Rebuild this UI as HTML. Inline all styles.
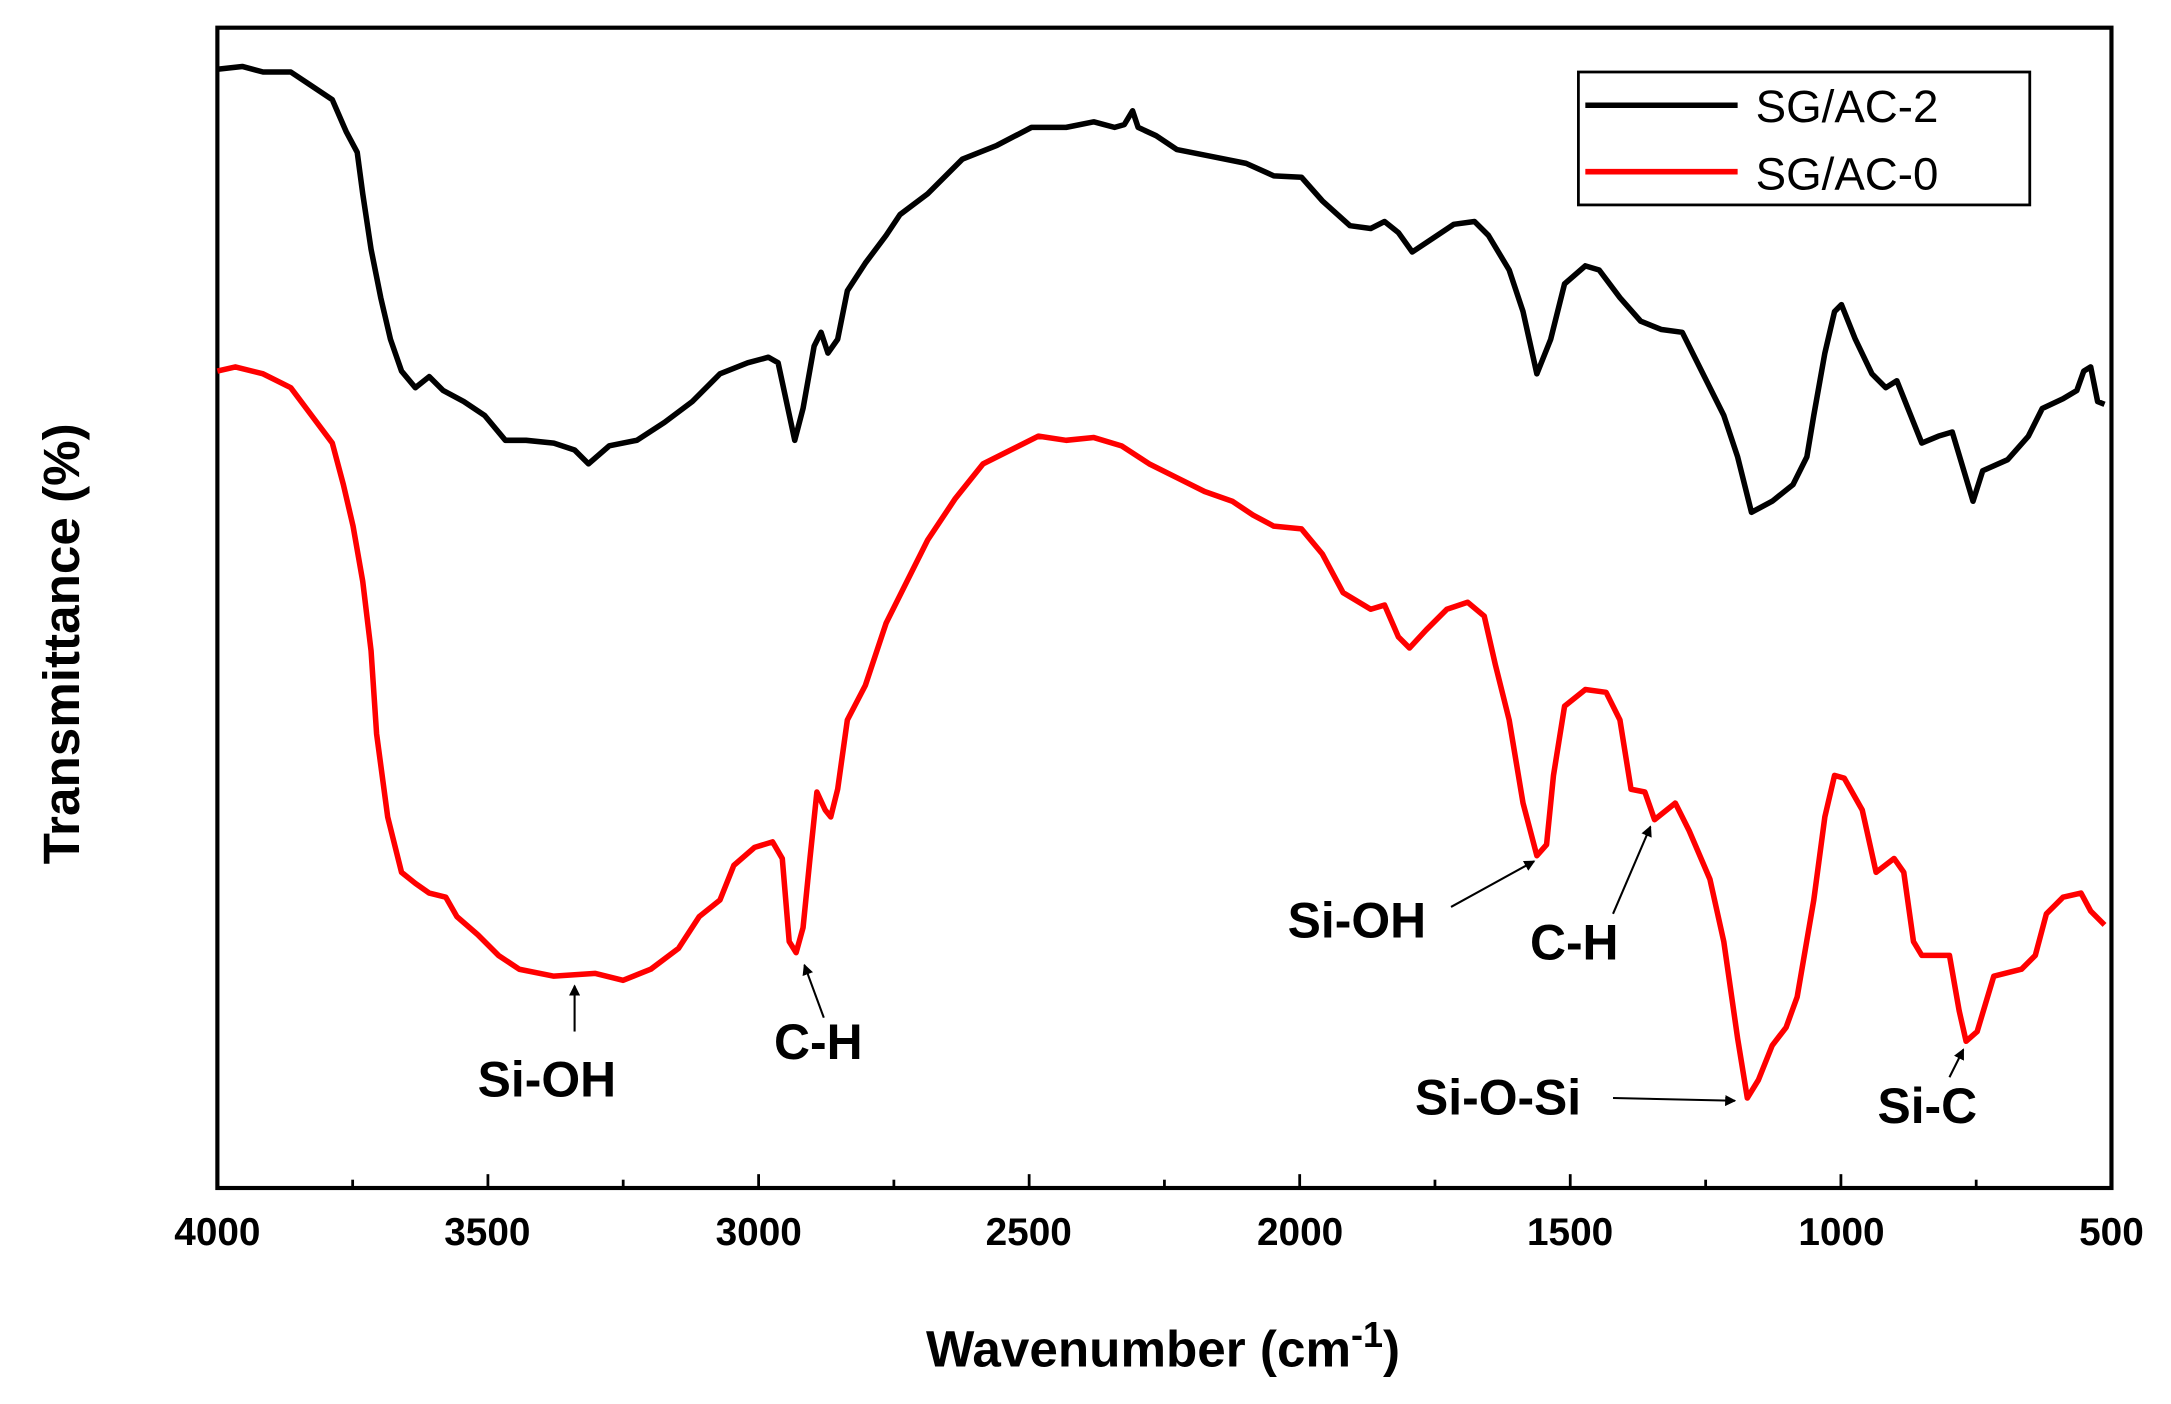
<!DOCTYPE html>
<html><head><meta charset="utf-8"><style>html,body{margin:0;padding:0;background:#fff}svg{display:block}</style></head><body>
<svg width="2171" height="1404" viewBox="0 0 1568 1014" preserveAspectRatio="none" xmlns="http://www.w3.org/2000/svg" font-family="Liberation Sans, Arial, sans-serif">
<defs><marker id="ah" markerWidth="8" markerHeight="8" refX="7" refY="4" orient="auto" markerUnits="userSpaceOnUse"><path d="M0,0 L8,4 L0,8 z" fill="#000"/></marker></defs>
<rect x="157" y="20" width="1368" height="838" fill="none" stroke="#000" stroke-width="3"/>
<g stroke="#000" stroke-width="2">
<line x1="157" y1="858" x2="157" y2="848"/><line x1="352.4" y1="858" x2="352.4" y2="848"/><line x1="547.9" y1="858" x2="547.9" y2="848"/><line x1="743.3" y1="858" x2="743.3" y2="848"/><line x1="938.7" y1="858" x2="938.7" y2="848"/><line x1="1134.1" y1="858" x2="1134.1" y2="848"/><line x1="1329.6" y1="858" x2="1329.6" y2="848"/>
<line x1="254.7" y1="858" x2="254.7" y2="852"/><line x1="450.1" y1="858" x2="450.1" y2="852"/><line x1="645.6" y1="858" x2="645.6" y2="852"/><line x1="841" y1="858" x2="841" y2="852"/><line x1="1036.4" y1="858" x2="1036.4" y2="852"/><line x1="1231.9" y1="858" x2="1231.9" y2="852"/><line x1="1427.3" y1="858" x2="1427.3" y2="852"/>
</g>
<g font-size="28" font-weight="bold" text-anchor="middle">
<text x="157" y="899">4000</text><text x="352" y="899">3500</text><text x="548" y="899">3000</text><text x="743" y="899">2500</text><text x="939" y="899">2000</text><text x="1134" y="899">1500</text><text x="1330" y="899">1000</text><text x="1525" y="899">500</text>
</g>
<text x="840" y="987" font-size="37" font-weight="bold" text-anchor="middle">Wavenumber (cm<tspan dy="-14" font-size="26">-1</tspan><tspan dy="14">)</tspan></text>
<text transform="translate(57,465) rotate(-90)" font-size="37" font-weight="bold" text-anchor="middle">Transmittance (%)</text>
<polyline fill="none" stroke="#000" stroke-width="4" stroke-linejoin="round" points="157,50 175,48 190,52 210,52 225,62 240,72 250,95 258,110 262,140 268,180 275,215 282,245 290,268 300,280 310,272 320,282 335,290 350,300 365,318 380,318 400,320 415,325 425,335 440,322 460,318 480,305 500,290 520,270 540,262 555,258 562,262 568,290 574,318 580,295 588,250 593,240 598,255 605,245 612,210 625,190 640,170 650,155 670,140 695,115 720,105 745,92 770,92 790,88 805,92 812,90 818,80 822,92 835,98 850,108 875,113 900,118 920,127 940,128 955,145 975,163 990,165 1000,160 1010,168 1020,182 1035,172 1050,162 1065,160 1075,170 1090,195 1100,225 1110,270 1120,245 1130,205 1145,192 1155,195 1170,215 1185,232 1200,238 1215,240 1230,270 1245,300 1255,330 1265,370 1280,362 1295,350 1305,330 1310,300 1318,255 1325,225 1330,220 1340,245 1352,270 1362,280 1370,275 1380,300 1388,320 1400,315 1410,312 1425,362 1432,340 1450,332 1465,315 1475,295 1490,288 1500,282 1505,268 1510,265 1515,290 1520,292"/>
<polyline fill="none" stroke="#ff0000" stroke-width="4" stroke-linejoin="round" points="157,268 170,265 190,270 210,280 225,300 240,320 248,350 255,380 262,420 268,470 272,530 280,590 290,630 300,638 310,645 322,648 330,662 345,675 360,690 375,700 400,705 430,703 450,708 470,700 490,685 505,662 520,650 530,625 545,612 558,608 565,620 570,680 575,688 580,670 585,620 590,572 596,585 600,590 605,570 612,520 625,495 640,450 655,420 670,390 690,360 710,335 730,325 750,315 770,318 790,316 810,322 830,335 850,345 870,355 890,362 905,372 920,380 940,382 955,400 970,428 990,440 1000,437 1010,460 1018,468 1030,455 1045,440 1060,435 1072,445 1080,480 1090,520 1100,580 1110,618 1117,610 1122,560 1130,510 1145,498 1160,500 1170,520 1178,570 1188,572 1195,592 1210,580 1220,600 1235,635 1245,680 1255,750 1262,793 1270,780 1280,755 1290,742 1298,720 1310,650 1318,590 1325,560 1332,562 1345,585 1355,630 1368,620 1375,630 1382,680 1388,690 1408,690 1415,730 1420,752 1428,745 1440,705 1460,700 1470,690 1478,660 1490,648 1503,645 1510,658 1520,668"/>
<rect x="1140" y="52" width="326" height="96" fill="#fff" stroke="#000" stroke-width="2"/>
<line x1="1145" y1="76" x2="1255" y2="76" stroke="#000" stroke-width="4"/>
<line x1="1145" y1="124" x2="1255" y2="124" stroke="#ff0000" stroke-width="4"/>
<text x="1268" y="88" font-size="33">SG/AC-2</text>
<text x="1268" y="137" font-size="33">SG/AC-0</text>
<g font-size="36" font-weight="bold" text-anchor="middle">
<text x="395" y="792">Si-OH</text><text x="591" y="765">C-H</text><text x="980" y="677">Si-OH</text><text x="1137" y="693">C-H</text><text x="1082" y="805">Si-O-Si</text><text x="1392" y="811">Si-C</text>
</g>
<g stroke="#000" stroke-width="1.5" marker-end="url(#ah)">
<line x1="415" y1="745" x2="415" y2="712"/><line x1="595" y1="735" x2="581" y2="697"/><line x1="1048" y1="655" x2="1108" y2="622"/><line x1="1165" y1="660" x2="1192" y2="597"/><line x1="1165" y1="793" x2="1253" y2="795"/><line x1="1408" y1="778" x2="1418" y2="758"/>
</g>
</svg>
</body></html>
